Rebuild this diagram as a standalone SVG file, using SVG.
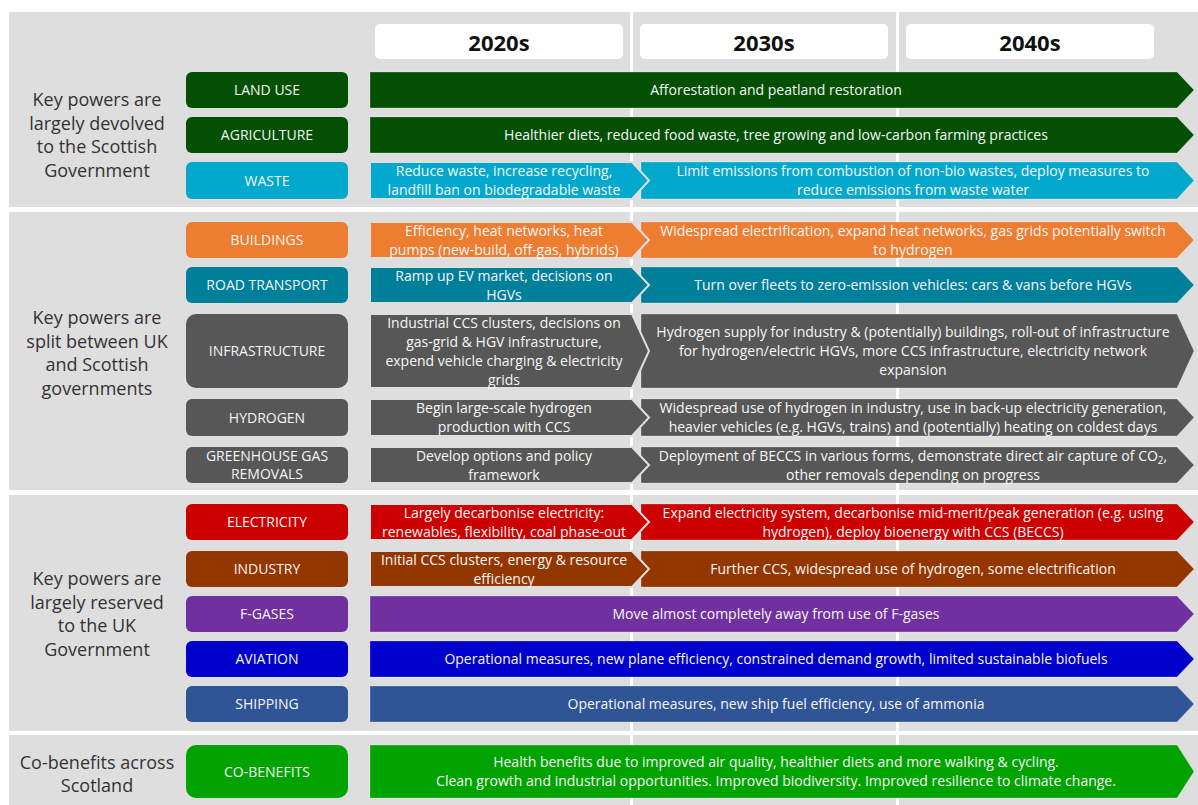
<svg xmlns="http://www.w3.org/2000/svg" width="1198" height="805" viewBox="0 0 1198 805">
<style>
.bg{fill:#dedede}
.div{fill:#ffffff}
.hdr{fill:#ffffff}
.ht{font-family:"Open Sans","Liberation Sans",sans-serif;font-weight:bold;font-size:22px;fill:#111;text-anchor:middle}
.lt{font-family:"Open Sans","Liberation Sans",sans-serif;font-size:18px;fill:#333;text-anchor:middle}
.ct{font-family:"Open Sans","Liberation Sans",sans-serif;font-size:14px;fill:#f4f4f4;text-anchor:middle}
.at{font-family:"Open Sans","Liberation Sans",sans-serif;font-size:14px;fill:#f6f6f6;text-anchor:middle}
.ar{stroke:#ffffff;stroke-opacity:0.25;stroke-width:1}
.a1{stroke:#dedede;stroke-width:2}
.green{fill:#035003}
.cyan{fill:#02a9cd}
.orange{fill:#ed7d31}
.teal{fill:#007f9b}
.grey{fill:#575757}
.red{fill:#cc0000}
.brown{fill:#943600}
.purple{fill:#7030a0}
.blue{fill:#0000cc}
.navy{fill:#2f5597}
.lime{fill:#00a300}
</style>

<g id="background">
<rect class="bg" x="9" y="12" width="1189" height="195"/>
<rect class="bg" x="9" y="212" width="1189" height="278"/>
<rect class="bg" x="9" y="495" width="1189" height="236"/>
<rect class="bg" x="9" y="735" width="1189" height="70"/>
<rect class="div" x="630" y="12" width="3" height="793"/>
<rect class="div" x="896" y="12" width="3" height="793"/>
</g>

<g id="header">
<g id="h2020"><rect class="hdr" x="375" y="24" width="248" height="35" rx="5"/><text class="ht" x="499" y="51">2020s</text></g>
<g id="h2030"><rect class="hdr" x="640" y="24" width="248" height="35" rx="5"/><text class="ht" x="764" y="51">2030s</text></g>
<g id="h2040"><rect class="hdr" x="906" y="24" width="248" height="35" rx="5"/><text class="ht" x="1030" y="51">2040s</text></g>
</g>

<g id="section-labels">
<text class="lt" x="97" y="106">Key powers are</text>
<text class="lt" x="97" y="129.5">largely devolved</text>
<text class="lt" x="97" y="153">to the Scottish</text>
<text class="lt" x="97" y="176.5">Government</text>

<text class="lt" x="97" y="324">Key powers are</text>
<text class="lt" x="97" y="347.5">split between UK</text>
<text class="lt" x="97" y="371">and Scottish</text>
<text class="lt" x="97" y="394.5">governments</text>

<text class="lt" x="97" y="585">Key powers are</text>
<text class="lt" x="97" y="608.5">largely reserved</text>
<text class="lt" x="97" y="632">to the UK</text>
<text class="lt" x="97" y="655.5">Government</text>

<text class="lt" x="97" y="769">Co-benefits across</text>
<text class="lt" x="97" y="792">Scotland</text>
</g>

<g id="categories">
<g id="cat-land-use"><rect class="green" x="186" y="72" width="162" height="36" rx="6"/><text class="ct" x="267" y="95">LAND USE</text></g>
<g id="cat-agriculture"><rect class="green" x="186" y="117" width="162" height="36" rx="6"/><text class="ct" x="267" y="140">AGRICULTURE</text></g>
<g id="cat-waste"><rect class="cyan" x="186" y="162" width="162" height="37" rx="6"/><text class="ct" x="267" y="185.5">WASTE</text></g>
<g id="cat-buildings"><rect class="orange" x="186" y="222" width="162" height="36" rx="6"/><text class="ct" x="267" y="245">BUILDINGS</text></g>
<g id="cat-road"><rect class="teal" x="186" y="267" width="162" height="36" rx="6"/><text class="ct" x="267" y="290">ROAD TRANSPORT</text></g>
<g id="cat-infra"><rect class="grey" x="186" y="314" width="162" height="74" rx="10"/><text class="ct" x="267" y="356">INFRASTRUCTURE</text></g>
<g id="cat-hydrogen"><rect class="grey" x="186" y="399" width="162" height="37" rx="6"/><text class="ct" x="267" y="422.5">HYDROGEN</text></g>
<g id="cat-ghg"><rect class="grey" x="186" y="447" width="162" height="36" rx="6"/><text class="ct" x="267" y="461">GREENHOUSE GAS</text><text class="ct" x="267" y="479">REMOVALS</text></g>
<g id="cat-electricity"><rect class="red" x="186" y="504" width="162" height="36" rx="6"/><text class="ct" x="267" y="527">ELECTRICITY</text></g>
<g id="cat-industry"><rect class="brown" x="186" y="551" width="162" height="36" rx="6"/><text class="ct" x="267" y="574">INDUSTRY</text></g>
<g id="cat-fgases"><rect class="purple" x="186" y="596" width="162" height="36" rx="6"/><text class="ct" x="267" y="619">F-GASES</text></g>
<g id="cat-aviation"><rect class="blue" x="186" y="641" width="162" height="36" rx="6"/><text class="ct" x="267" y="664">AVIATION</text></g>
<g id="cat-shipping"><rect class="navy" x="186" y="686" width="162" height="36" rx="6"/><text class="ct" x="267" y="709">SHIPPING</text></g>
<g id="cat-cobenefits"><rect class="lime" x="186" y="745" width="162" height="53" rx="10"/><text class="ct" x="267" y="776.5">CO-BENEFITS</text></g>
</g>

<g id="connectors">
<!-- LAND USE -->
<path class="green ar" d="M370,72 H1177 L1194,90 L1177,108 H370 Z"/>
<text class="at" x="776" y="95">Afforestation and peatland restoration</text>
<!-- AGRICULTURE -->
<path class="green ar" d="M370,117 H1177 L1194,135 L1177,153 H370 Z"/>
<text class="at" x="776" y="140">Healthier diets, reduced food waste, tree growing and low-carbon farming practices</text>
<!-- WASTE -->
<path class="cyan ar" d="M641,162 H1177 L1194,180.5 L1177,199 H641 Z"/>
<path class="cyan a1" d="M370,162 H632 L649,180.5 L632,199 H370 Z"/>
<text class="at" x="504" y="176">Reduce waste, increase recycling,</text>
<text class="at" x="504" y="195">landfill ban on biodegradable waste</text>
<text class="at" x="913" y="176">Limit emissions from combustion of non-bio wastes, deploy measures to</text>
<text class="at" x="913" y="195">reduce emissions from waste water</text>
<!-- BUILDINGS -->
<path class="orange ar" d="M641,222 H1177 L1194,240 L1177,258 H641 Z"/>
<path class="orange a1" d="M370,222 H632 L649,240 L632,258 H370 Z"/>
<text class="at" x="504" y="235.5">Efficiency, heat networks, heat</text>
<text class="at" x="504" y="254.5">pumps (new-build, off-gas, hybrids)</text>
<text class="at" x="913" y="235.5">Widespread electrification, expand heat networks, gas grids potentially switch</text>
<text class="at" x="913" y="254.5">to hydrogen</text>
<!-- ROAD TRANSPORT -->
<path class="teal ar" d="M641,267 H1177 L1194,285 L1177,303 H641 Z"/>
<path class="teal a1" d="M370,267 H632 L649,285 L632,303 H370 Z"/>
<text class="at" x="504" y="280.5">Ramp up EV market, decisions on</text>
<text class="at" x="504" y="299.5">HGVs</text>
<text class="at" x="913" y="290">Turn over fleets to zero-emission vehicles: cars &amp; vans before HGVs</text>
<!-- INFRASTRUCTURE -->
<path class="grey ar" d="M641,314 H1177 L1194,351 L1177,388 H641 Z"/>
<path class="grey a1" d="M370,314 H632 L649,351 L632,388 H370 Z"/>
<text class="at" x="504" y="328">Industrial CCS clusters, decisions on</text>
<text class="at" x="504" y="347">gas-grid &amp; HGV infrastructure,</text>
<text class="at" x="504" y="366">expend vehicle charging &amp; electricity</text>
<text class="at" x="504" y="385">grids</text>
<text class="at" x="913" y="337">Hydrogen supply for industry &amp; (potentially) buildings, roll-out of infrastructure</text>
<text class="at" x="913" y="356">for hydrogen/electric HGVs, more CCS infrastructure, electricity network</text>
<text class="at" x="913" y="375">expansion</text>
<!-- HYDROGEN -->
<path class="grey ar" d="M641,399 H1177 L1194,417.5 L1177,436 H641 Z"/>
<path class="grey a1" d="M370,399 H632 L649,417.5 L632,436 H370 Z"/>
<text class="at" x="504" y="413">Begin large-scale hydrogen</text>
<text class="at" x="504" y="432">production with CCS</text>
<text class="at" x="913" y="413">Widespread use of hydrogen in industry, use in back-up electricity generation,</text>
<text class="at" x="913" y="432">heavier vehicles (e.g. HGVs, trains) and (potentially) heating on coldest days</text>
<!-- GHG REMOVALS -->
<path class="grey ar" d="M641,447 H1177 L1194,465 L1177,483 H641 Z"/>
<path class="grey a1" d="M370,447 H632 L649,465 L632,483 H370 Z"/>
<text class="at" x="504" y="460.5">Develop options and policy</text>
<text class="at" x="504" y="479.5">framework</text>
<text class="at" x="913" y="460.5">Deployment of BECCS in various forms, demonstrate direct air capture of CO<tspan font-size="10" baseline-shift="-3">2</tspan>,</text>
<text class="at" x="913" y="479.5">other removals depending on progress</text>
<!-- ELECTRICITY -->
<path class="red ar" d="M641,504 H1177 L1194,522 L1177,540 H641 Z"/>
<path class="red a1" d="M370,504 H632 L649,522 L632,540 H370 Z"/>
<text class="at" x="504" y="517.5">Largely decarbonise electricity:</text>
<text class="at" x="504" y="536.5">renewables, flexibility, coal phase-out</text>
<text class="at" x="913" y="517.5">Expand electricity system, decarbonise mid-merit/peak generation (e.g. using</text>
<text class="at" x="913" y="536.5">hydrogen), deploy bioenergy with CCS (BECCS)</text>
<!-- INDUSTRY -->
<path class="brown ar" d="M641,551 H1177 L1194,569 L1177,587 H641 Z"/>
<path class="brown a1" d="M370,551 H632 L649,569 L632,587 H370 Z"/>
<text class="at" x="504" y="564.5">Initial CCS clusters, energy &amp; resource</text>
<text class="at" x="504" y="583.5">efficiency</text>
<text class="at" x="913" y="574">Further CCS, widespread use of hydrogen, some electrification</text>
<!-- F-GASES -->
<path class="purple ar" d="M370,596 H1177 L1194,614 L1177,632 H370 Z"/>
<text class="at" x="776" y="619">Move almost completely away from use of F-gases</text>
<!-- AVIATION -->
<path class="blue ar" d="M370,641 H1177 L1194,659 L1177,677 H370 Z"/>
<text class="at" x="776" y="664">Operational measures, new plane efficiency, constrained demand growth, limited sustainable biofuels</text>
<!-- SHIPPING -->
<path class="navy ar" d="M370,686 H1177 L1194,704 L1177,722 H370 Z"/>
<text class="at" x="776" y="709">Operational measures, new ship fuel efficiency, use of ammonia</text>
<!-- CO-BENEFITS -->
<path class="lime ar" d="M370,745 H1177 L1194,771.5 L1177,798 H370 Z"/>
<text class="at" x="776" y="767">Health benefits due to improved air quality, healthier diets and more walking &amp; cycling.</text>
<text class="at" x="776" y="786">Clean growth and industrial opportunities. Improved biodiversity. Improved resilience to climate change.</text>
</g>
</svg>
